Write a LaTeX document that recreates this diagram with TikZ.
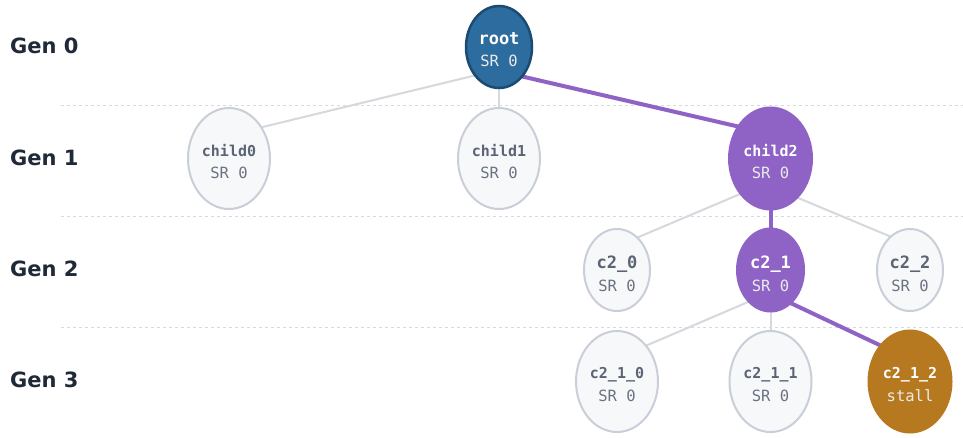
\documentclass[tikz,border=0pt]{standalone}
\usepackage{fontspec}
\setmainfont{DejaVu Sans}
\newfontfamily\monofont{DejaVu Sans Mono}
\usetikzlibrary{shapes.geometric,calc,backgrounds}
\definecolor{cRootFill}{HTML}{2D6C9F}
\definecolor{cRootLine}{HTML}{1B4B73}
\definecolor{cPurple}{HTML}{8E63C5}
\definecolor{cStall}{HTML}{B6791F}
\definecolor{cGFill}{HTML}{F6F8FA}
\definecolor{cGLine}{HTML}{C9CED8}
\definecolor{cGName}{HTML}{5C6474}
\definecolor{cGText}{HTML}{6B7280}
\definecolor{cEdge}{HTML}{D5D8DD}
\definecolor{cSep}{HTML}{D6DADF}
\definecolor{cGen}{HTML}{1F2937}
\begin{document}
\begin{tikzpicture}[x=1pt,y=-1pt,
  tnode/.style={ellipse, inner sep=0pt, outer sep=0pt},
  smallnode/.style={minimum width=66pt, minimum height=82pt},
  bignode/.style={minimum width=82pt, minimum height=101pt},
  plainnode/.style={fill=cGFill, draw=cGLine, line width=2pt},
  rootnode/.style={fill=cRootFill, draw=cRootLine, line width=2.5pt},
  purpnode/.style={fill=cPurple, draw=cPurple, line width=3pt},
  stallnode/.style={fill=cStall, draw=cStall, line width=3pt},
  nmbig/.style={anchor=base, inner sep=0pt, font=\monofont\bfseries\fontsize{17}{19}\selectfont},
  nmsmall/.style={anchor=base, inner sep=0pt, font=\monofont\bfseries\fontsize{15}{17}\selectfont},
  srtext/.style={anchor=base, inner sep=0pt, font=\monofont\fontsize{15.5}{17}\selectfont},
  gtxt/.style={text=cGName},
  gsr/.style={text=cGText},
  wtxt/.style={text=white},
  wsr/.style={text=white!92!black},
  edge/.style={draw=cEdge, line width=2pt},
  hedge/.style={draw=cPurple, line width=4pt},
  sepline/.style={draw=cSep, line width=1pt, dash pattern=on 3pt off 3pt},
  genlabel/.style={anchor=west, inner sep=0pt, text=cGen, font=\bfseries\fontsize{21}{24}\selectfont}
]
\useasboundingbox (0,0) rectangle (963,438);

% generation labels
\node[genlabel] (g0) at (10,45.5) {Gen 0};
\node[genlabel] (g1) at (10,157.5) {Gen 1};
\node[genlabel] (g2) at (10,268.5) {Gen 2};
\node[genlabel] (g3) at (10,379.5) {Gen 3};

% nodes
\node[tnode,smallnode,rootnode] (root) at (499,47) {};
\node[tnode,bignode,plainnode] (child0) at (229,158.5) {};
\node[tnode,bignode,plainnode] (child1) at (499,158.5) {};
\node[tnode,bignode,purpnode] (child2) at (770.5,158.5) {};
\node[tnode,smallnode,plainnode] (c20) at (617,270) {};
\node[tnode,smallnode,purpnode] (c21) at (770.5,270) {};
\node[tnode,smallnode,plainnode] (c22) at (910,270) {};
\node[tnode,bignode,plainnode] (c210) at (617,381.5) {};
\node[tnode,bignode,plainnode] (c211) at (770.5,381.5) {};
\node[tnode,bignode,stallnode] (c212) at (910,381.5) {};

% labels
\node[nmbig,wtxt] (root-n) at ($(root.center)+(0,-2)$) {root};
\node[srtext,wsr] (root-s) at ($(root.center)+(0,20)$) {SR 0};
\node[nmsmall,gtxt] (child0-n) at ($(child0.center)+(0,-2)$) {child0};
\node[srtext,gsr] (child0-s) at ($(child0.center)+(0,20.5)$) {SR 0};
\node[nmsmall,gtxt] (child1-n) at ($(child1.center)+(0,-2)$) {child1};
\node[srtext,gsr] (child1-s) at ($(child1.center)+(0,20.5)$) {SR 0};
\node[nmsmall,wtxt] (child2-n) at ($(child2.center)+(0,-2)$) {child2};
\node[srtext,wsr] (child2-s) at ($(child2.center)+(0,20.5)$) {SR 0};
\node[nmbig,gtxt] (c20-n) at ($(c20.center)+(0,-1)$) {c2\_0};
\node[srtext,gsr] (c20-s) at ($(c20.center)+(0,21)$) {SR 0};
\node[nmbig,wtxt] (c21-n) at ($(c21.center)+(0,-1)$) {c2\_1};
\node[srtext,wsr] (c21-s) at ($(c21.center)+(0,21)$) {SR 0};
\node[nmbig,gtxt] (c22-n) at ($(c22.center)+(0,-1)$) {c2\_2};
\node[srtext,gsr] (c22-s) at ($(c22.center)+(0,21)$) {SR 0};
\node[nmsmall,gtxt] (c210-n) at ($(c210.center)+(0,-3)$) {c2\_1\_0};
\node[srtext,gsr] (c210-s) at ($(c210.center)+(0,19.5)$) {SR 0};
\node[nmsmall,gtxt] (c211-n) at ($(c211.center)+(0,-3)$) {c2\_1\_1};
\node[srtext,gsr] (c211-s) at ($(c211.center)+(0,19.5)$) {SR 0};
\node[nmsmall,wtxt] (c212-n) at ($(c212.center)+(0,-3)$) {c2\_1\_2};
\node[srtext,wsr] (c212-s) at ($(c212.center)+(0,19.5)$) {stall};

\begin{scope}[on background layer]
  \fill[white] (0,0) rectangle (963,438);
  \coordinate (s1a) at (61,105.5);  \coordinate (s1b) at (963,105.5);
  \coordinate (s2a) at (61,216.5);  \coordinate (s2b) at (963,216.5);
  \coordinate (s3a) at (61,327.5);  \coordinate (s3b) at (963,327.5);
  \draw[sepline] (s1a) -- (s1b);
  \draw[sepline] (s2a) -- (s2b);
  \draw[sepline] (s3a) -- (s3b);
  % edges
  \draw[edge] (root.230) -- (child0.44);
  \draw[edge] (root.south) -- (child1.north);
  \draw[hedge] (root.308) -- (child2.135);
  \draw[edge] (child2.230) -- (c20.58);
  \draw[hedge] (child2.south) -- (c21.north);
  \draw[edge] (child2.304) -- (c22.120);
  \draw[edge] (c21.236) -- (c210.51);
  \draw[edge] (c21.south) -- (c211.north);
  \draw[hedge] (c21.301) -- (c212.129);
\end{scope}
\end{tikzpicture}
\end{document}
